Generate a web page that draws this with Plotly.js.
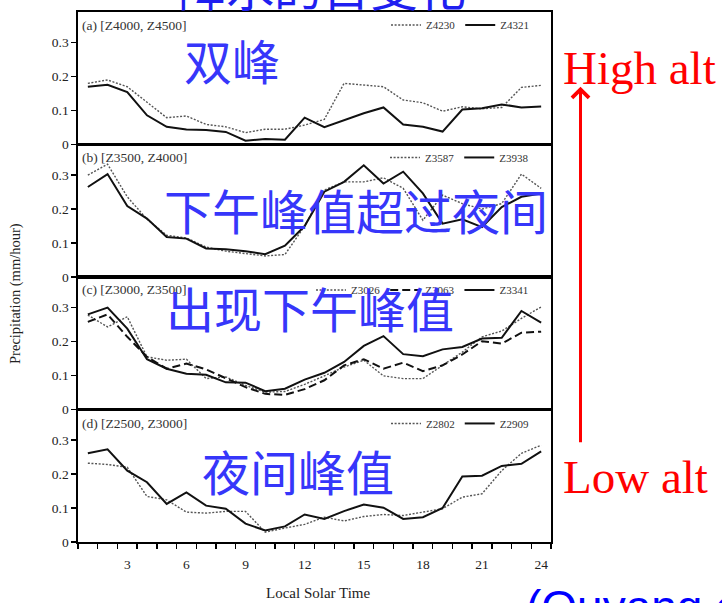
<!DOCTYPE html>
<html>
<head>
<meta charset="utf-8">
<script src="https://cdn.plot.ly/plotly-3.0.1.min.js"></script>
<style>
  html, body { margin: 0; padding: 0; background: #fff; }
  #chart { width: 722px; height: 603px; }
</style>
</head>
<body>
<div id="chart"></div>
<script>
// Local solar time (hour of day)
const hours = [1, 2, 3, 4, 5, 6, 7, 8, 9, 10, 11, 12, 13, 14, 15, 16, 17, 18, 19, 20, 21, 22, 23, 24];
const xTickVals = [3, 6, 9, 12, 15, 18, 21, 24];
const yTickVals = [0, 0.1, 0.2, 0.3];
const yTickText = ['0', '0.1', '0.2', '0.3'];

// (a) [Z4000, Z4500]
const z4230 = [0.180, 0.190, 0.170, 0.125, 0.079, 0.084, 0.059, 0.052, 0.035, 0.045, 0.045, 0.057,
               0.074, 0.180, 0.175, 0.170, 0.131, 0.123, 0.098, 0.111, 0.105, 0.109, 0.168, 0.174];
const z4321 = [0.170, 0.176, 0.154, 0.086, 0.052, 0.044, 0.043, 0.037, 0.011, 0.016, 0.014, 0.079,
               0.051, 0.072, 0.092, 0.109, 0.059, 0.052, 0.038, 0.103, 0.107, 0.118, 0.109, 0.112];

// (b) [Z3500, Z4000]
const z3587 = [0.300, 0.332, 0.236, 0.170, 0.123, 0.115, 0.088, 0.076, 0.069, 0.062, 0.066, 0.150,
               0.256, 0.280, 0.280, 0.292, 0.261, 0.167, 0.241, 0.216, 0.200, 0.216, 0.303, 0.261];
const z3938 = [0.265, 0.303, 0.209, 0.172, 0.118, 0.113, 0.084, 0.082, 0.076, 0.067, 0.092, 0.150,
               0.251, 0.280, 0.329, 0.275, 0.310, 0.246, 0.157, 0.170, 0.147, 0.206, 0.236, 0.246];

// (c) [Z3000, Z3500]
const z3026 = [0.278, 0.243, 0.273, 0.155, 0.145, 0.148, 0.091, 0.096, 0.071, 0.051, 0.053, 0.074,
               0.099, 0.125, 0.145, 0.099, 0.091, 0.091, 0.130, 0.169, 0.214, 0.231, 0.268, 0.302];
const z3063 = [0.258, 0.280, 0.214, 0.155, 0.120, 0.135, 0.118, 0.091, 0.066, 0.046, 0.043, 0.060,
               0.086, 0.130, 0.148, 0.120, 0.138, 0.113, 0.130, 0.162, 0.201, 0.194, 0.226, 0.229];
const z3341 = [0.280, 0.300, 0.238, 0.148, 0.120, 0.105, 0.102, 0.080, 0.079, 0.054, 0.061, 0.088,
               0.108, 0.140, 0.187, 0.216, 0.163, 0.157, 0.177, 0.184, 0.209, 0.211, 0.290, 0.256];

// (d) [Z2500, Z3000]
const z2802 = [0.232, 0.228, 0.220, 0.134, 0.124, 0.088, 0.085, 0.090, 0.090, 0.029, 0.041, 0.052,
               0.073, 0.062, 0.075, 0.081, 0.078, 0.088, 0.098, 0.132, 0.142, 0.210, 0.261, 0.285];
const z2909 = [0.261, 0.273, 0.210, 0.176, 0.112, 0.146, 0.107, 0.098, 0.054, 0.034, 0.046, 0.081,
               0.068, 0.091, 0.110, 0.101, 0.068, 0.073, 0.100, 0.193, 0.195, 0.224, 0.230, 0.267];

const W = 722, H = 603;
const M = { l: 78, r: 171, t: 10, b: 61 };
const plotW = W - M.l - M.r, plotH = H - M.t - M.b;
// pixel -> paper helpers for the overlay text
const px = x => (x - M.l) / plotW;
const py = y => (H - M.b - y) / plotH;

const SERIF = 'Liberation Serif, Times New Roman, serif';
const CJK = 'Noto Sans CJK SC, sans-serif';

const dotLine = { color: '#555', width: 1.4, dash: '2px,1.6px' };
const solidLine = { color: '#111', width: 2 };
const dashLine = { color: '#111', width: 2, dash: '8px,4px' };

function series(y, name, line, axisNum, legendId) {
  const sfx = axisNum === 1 ? '' : String(axisNum);
  return { x: hours, y: y, name: name, type: 'scatter', mode: 'lines', line: line,
           xaxis: 'x' + sfx, yaxis: 'y' + sfx, legend: legendId };
}

const traces = [
  series(z4230, 'Z4230', dotLine, 4, 'legend'),
  series(z4321, 'Z4321', solidLine, 4, 'legend'),
  series(z3587, 'Z3587', dotLine, 3, 'legend2'),
  series(z3938, 'Z3938', solidLine, 3, 'legend2'),
  series(z3026, 'Z3026', dotLine, 2, 'legend3'),
  series(z3063, 'Z3063', dashLine, 2, 'legend3'),
  series(z3341, 'Z3341', solidLine, 2, 'legend3'),
  series(z2802, 'Z2802', dotLine, 1, 'legend4'),
  series(z2909, 'Z2909', solidLine, 1, 'legend4')
];

const axisFont = { family: SERIF, size: 13.5, color: '#222' };

function yAxis(domain, anchor) {
  return {
    domain: domain, anchor: anchor, range: [0, 0.39],
    tickmode: 'array', tickvals: yTickVals, ticktext: yTickText,
    ticks: 'outside', ticklen: 5, tickwidth: 1.4, tickcolor: '#000',
    showgrid: false, zeroline: false,
    showline: true, linecolor: '#000', linewidth: 1.6, mirror: true,
    tickfont: axisFont, fixedrange: true
  };
}
function xAxis(anchor, labelled) {
  const ax = {
    anchor: anchor, range: [0.5, 24.5], domain: [0, 1],
    showgrid: false, zeroline: false,
    showline: true, linecolor: '#000', linewidth: 1.6, mirror: true,
    fixedrange: true
  };
  if (labelled) {
    Object.assign(ax, {
      tickmode: 'array', tickvals: xTickVals,
      ticks: 'outside', ticklen: 9, tickcolor: 'rgba(0,0,0,0)',
      tickfont: axisFont,
      minor: { tickmode: 'linear', tick0: 0.5, dtick: 1, ticks: 'outside',
               ticklen: 5, tickwidth: 1.4, tickcolor: '#000' }
    });
  } else {
    ax.showticklabels = false;
    ax.ticks = '';
  }
  return ax;
}

function legendAt(yTopPx) {
  return {
    orientation: 'h', x: px(534), xanchor: 'right', y: py(yTopPx), yanchor: 'middle',
    bgcolor: 'rgba(0,0,0,0)', borderwidth: 0,
    font: { family: SERIF, size: 11, color: '#333' },
    itemwidth: 30, tracegroupgap: 0, itemclick: false, itemdoubleclick: false
  };
}

function panelLabel(text, yPx) {
  return { xref: 'paper', yref: 'paper', x: px(80), y: py(yPx), xanchor: 'left', yanchor: 'middle',
           text: text, showarrow: false, font: { family: SERIF, size: 13.5, color: '#333' } };
}
function note(text, xPx, yPx, size, color, family, xanchor) {
  return { xref: 'paper', yref: 'paper', x: px(xPx), y: py(yPx), xanchor: xanchor || 'left',
           yanchor: 'middle', text: text, showarrow: false,
           font: { family: family, size: size, color: color } };
}

const BLUE = '#3636fa';
const annotations = [
  panelLabel('(a) [Z4000, Z4500]', 24),
  panelLabel('(b) [Z3500, Z4000]', 156),
  panelLabel('(c) [Z3000, Z3500]', 289),
  panelLabel('(d) [Z2500, Z3000]', 423),
  // axis titles
  { xref: 'paper', yref: 'paper', x: px(16), y: py(292), text: 'Precipitation (mm/hour)',
    textangle: -90, showarrow: false, xanchor: 'center', yanchor: 'middle',
    font: { family: SERIF, size: 14.5, color: '#222' } },
  { xref: 'paper', yref: 'paper', x: px(318), y: py(593), text: 'Local Solar Time',
    showarrow: false, xanchor: 'center', yanchor: 'middle',
    font: { family: SERIF, size: 15, color: '#222' } },
  // commentary
  note('降水的日变化', 176, -17, 48, '#1f1ff0', CJK),
  note('双峰', 182, 57, 48, BLUE, CJK),
  note('下午峰值超过夜间', 162, 208, 48, BLUE, CJK),
  note('出现下午峰值', 164, 306, 48, BLUE, CJK),
  note('夜间峰值', 200, 470, 48, BLUE, CJK),
  note('High alt', 561, 66, 47, '#ff0000', SERIF),
  note('Low alt', 561, 477, 47, '#ff0000', SERIF),
  note('(Ouyang et al.)', 524, 607, 46, '#0000ff', 'Liberation Sans, Arial, sans-serif'),
  // altitude arrow
  { xref: 'paper', yref: 'paper', x: px(580.5), y: py(85), ax: 0, ay: 357,
    axref: 'pixel', ayref: 'pixel', text: '', showarrow: true,
    arrowhead: 4, arrowsize: 1.1, arrowwidth: 3, arrowcolor: '#ff0000', standoff: 0 }
];

const layout = {
  width: W, height: H,
  margin: M,
  paper_bgcolor: '#fff', plot_bgcolor: '#fff',
  font: { family: SERIF, color: '#222' },
  xaxis: xAxis('y', true),
  yaxis: yAxis([0, 0.25], 'x'),
  xaxis2: xAxis('y2', false),
  yaxis2: yAxis([0.25, 0.5], 'x2'),
  xaxis3: xAxis('y3', false),
  yaxis3: yAxis([0.5, 0.75], 'x3'),
  xaxis4: xAxis('y4', false),
  yaxis4: yAxis([0.75, 1], 'x4'),
  legend: legendAt(23),
  legend2: legendAt(156),
  legend3: legendAt(289),
  legend4: legendAt(423),
  annotations: annotations
};

Plotly.newPlot('chart', traces, layout, { displayModeBar: false, staticPlot: true });
</script>
</body>
</html>
